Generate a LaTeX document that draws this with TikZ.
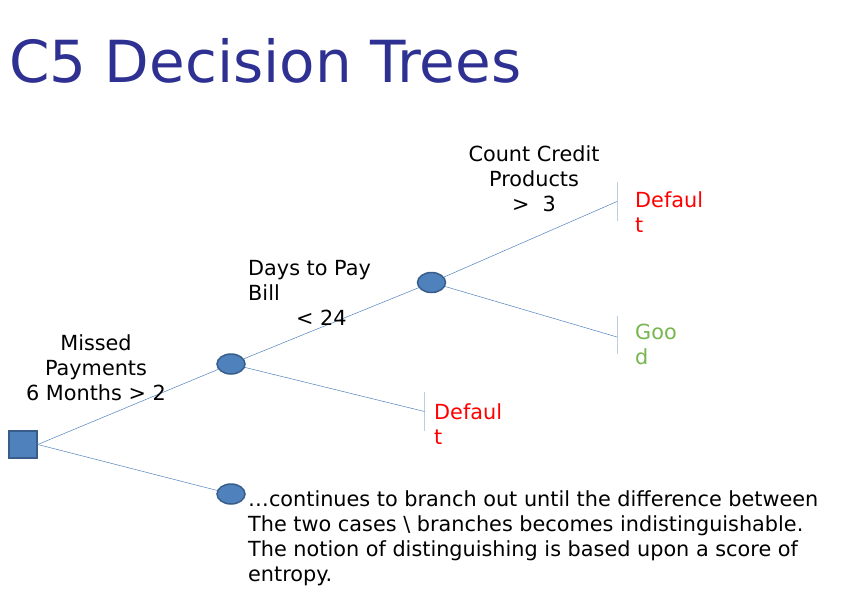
\documentclass[tikz,border=0pt]{standalone}
\usepackage{fontspec}
\setmainfont{DejaVu Sans}
\usetikzlibrary{shapes.geometric}
\definecolor{titleblue}{RGB}{46,49,146}
\definecolor{nodefill}{RGB}{79,129,189}
\definecolor{nodeedge}{RGB}{56,93,138}
\definecolor{linkblue}{RGB}{79,129,189}
\definecolor{barblue}{RGB}{185,205,229}
\definecolor{goodgreen}{RGB}{119,181,78}
\begin{document}
\begin{tikzpicture}[x=1pt,y=-1pt,
  chance/.style={ellipse,draw=nodeedge,line width=1.5pt,fill=nodefill,minimum width=28pt,minimum height=20pt,inner sep=0pt},
  decision/.style={rectangle,draw=nodeedge,line width=1.5pt,fill=nodefill,minimum width=28pt,minimum height=27pt,inner sep=0pt},
  link/.style={draw=linkblue,line width=0.5pt},
  endbar/.style={inner sep=0pt,minimum width=0pt,minimum height=38pt},
  barline/.style={draw=barblue,line width=1pt},
  body/.style={font=\fontsize{20.8}{25}\selectfont,inner sep=0pt},
  leaf/.style={body,anchor=base west,align=left}
]
\useasboundingbox (0,0) rectangle (849,589);

\node[anchor=base west,inner sep=0pt,text=titleblue,font=\fontsize{58}{60}\selectfont] (title) at (9,82) {C5 Decision Trees};

\node[decision] (root) at (23,444.5) {};
\node[chance] (n1) at (231,364) {};
\node[chance] (n2) at (431.5,282.5) {};
\node[chance] (n3) at (231,494) {};

\node[endbar] (b1) at (617,201.5) {};
\node[endbar] (b2) at (617,335) {};
\node[endbar] (b3) at (424.5,411.5) {};
\draw[barline] (b1.north) -- (b1.south);
\draw[barline] (b2.north) -- (b2.south);
\draw[barline] (b3.north) -- (b3.south);

\draw[link] (root.east) -- (n1);
\draw[link] (root.east) -- (n3);
\draw[link] (n1) -- (n2);
\draw[link] (n1) -- (b3.center);
\draw[link] (n2) -- (b1.center);
\draw[link] (n2) -- ([yshift=-2pt]b2.center);

\node[body,anchor=base,align=center] (lab1) at (96,400) {Missed\\Payments\\6 Months \textgreater{} 2};
\node[body,anchor=base west,align=left] (lab2) at (248,325) {Days to Pay\\Bill\\\hspace*{48pt}\textless{} 24};
\node[body,anchor=base,align=center] (lab3) at (534,211) {Count Credit\\Products\\\textgreater{}\ \ 3};

\node[leaf,text=red] (d1) at (635,232) {Defaul\\t};
\node[leaf,text=goodgreen] (g1) at (635,364) {Goo\\d};
\node[leaf,text=red] (d2) at (434,444) {Defaul\\t};

\node[leaf] (note) at (248,581) {\ldots continues to branch out until the difference between\\The two cases \textbackslash{} branches becomes indistinguishable.\\The notion of distinguishing is based upon a score of\\entropy.};
\end{tikzpicture}
\end{document}
